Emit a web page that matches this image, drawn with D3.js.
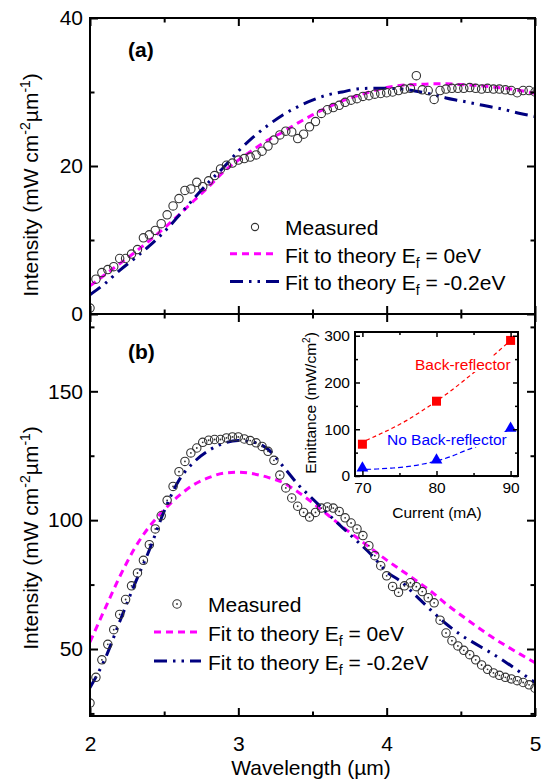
<!DOCTYPE html>
<html>
<head>
<meta charset="utf-8">
<script src="https://cdn.jsdelivr.net/npm/d3@7"></script>
<style>
  body { margin: 0; background: #fff; }
  svg { display: block; font-family: "Liberation Sans", Arial, sans-serif; }
</style>
</head>
<body>
<div id="chart"></div>
<script>
// measured spectra share one wavelength grid (µm)
const wavelength = [2.00,2.04,2.08,2.12,2.16,2.20,2.24,2.28,2.32,2.36,2.40,2.44,2.48,2.52,2.56,2.60,2.64,2.68,2.72,2.76,
  2.80,2.84,2.88,2.92,2.96,3.00,3.04,3.08,3.12,3.16,3.20,3.24,3.28,3.32,3.36,3.40,3.44,3.48,3.52,3.56,
  3.60,3.64,3.68,3.72,3.76,3.80,3.84,3.88,3.92,3.96,4.00,4.04,4.08,4.12,4.16,4.20,4.24,4.28,4.32,4.36,
  4.40,4.44,4.48,4.52,4.56,4.60,4.64,4.68,4.72,4.76,4.80,4.84,4.88,4.92,4.96,5.00];

const measuredA = [0.8,4.7,5.6,6.0,6.4,7.5,7.5,8.1,8.7,10.3,
  10.7,11.3,12.2,13.4,14.6,15.6,16.7,16.9,17.8,17.2,
  18.0,18.7,19.6,20.1,20.4,20.8,21.0,21.2,21.5,22.0,
  22.7,23.5,24.2,24.7,24.6,23.7,24.3,25.3,26.0,27.1,
  27.6,27.9,28.2,28.6,28.9,29.1,29.4,29.5,29.7,29.8,
  29.9,30.0,30.2,30.4,30.5,32.2,30.3,30.2,29.0,30.2,
  30.4,30.5,30.5,30.5,30.6,30.5,30.4,30.5,30.4,30.4,
  30.3,30.2,29.9,30.2,30.2,30.0];

const measuredB = [29.0,39.0,45.8,51.8,57.5,63.4,69.2,74.5,79.5,84.4,
  90.5,96.6,101.7,107.7,113.1,118.8,122.8,126.1,128.0,130.2,
  131.0,131.3,131.3,131.9,132.3,132.3,131.5,130.9,130.0,128.6,
  126.7,123.2,117.5,112.5,108.6,105.4,103.0,101.2,103.0,104.7,
  105.1,104.7,103.4,100.9,98.9,96.6,94.0,90.1,86.2,82.3,
  78.4,74.3,72.0,74.5,75.7,74.2,72.3,69.9,67.9,61.2,
  56.2,53.2,51.2,49.5,47.8,45.8,43.8,42.1,40.7,39.8,
  39.0,38.4,37.7,37.0,36.1,34.8];

// theory curves
const fitWave = [2.0,2.1,2.2,2.3,2.4,2.5,2.6,2.7,2.8,2.9,3.0,3.1,3.2,3.3,3.4,3.5,
  3.6,3.7,3.8,3.9,4.0,4.1,4.2,4.3,4.4,4.5,4.6,4.7,4.8,4.9,5.0];
const fitA0 = [3.8,5.3,6.8,8.3,9.9,11.6,13.4,15.3,17.2,19.2,20.8,22.2,23.5,24.6,25.8,26.9,
  27.9,28.8,29.5,30.1,30.6,30.9,31.0,31.1,31.1,31.0,30.9,30.7,30.5,30.2,29.8];
const fitA2 = [2.6,4.1,5.9,7.5,9.2,11.1,13.3,15.6,17.8,19.8,22.0,23.9,25.5,26.9,28.0,28.9,
  29.6,30.0,30.4,30.5,30.5,30.4,30.1,29.7,29.2,28.8,28.4,28.0,27.6,27.1,26.7];
const fitB0 = [52.7,65.5,78.0,89.0,97.5,104.0,109.5,113.8,116.5,118.2,118.6,118.0,116.6,114.6,111.0,106.8,
  102.2,97.5,93.2,88.8,84.5,80.5,76.5,72.3,67.5,63.2,59.0,55.0,51.4,48.0,44.7];
const fitB2 = [35.0,46.0,60.6,75.0,88.4,103.5,115.5,122.5,127.0,129.8,130.9,130.3,127.5,121.0,114.0,108.3,
  102.7,97.2,91.9,86.4,80.0,76.0,70.5,65.0,59.8,55.5,52.0,48.6,45.0,41.0,37.0];

const legendLabels = ["Measured", "0eV", "-0.2eV"];

// inset: emittance vs current
const current = [70, 80, 90];
const withReflector = [68, 160, 290];
const noReflector = [17, 34, 102];
const insetFitCurrent = [70.5, 72, 74, 76, 78, 80, 82, 84, 86, 88, 90];
const withReflectorFit = [76, 87, 102, 119, 139, 160, 183, 208, 234, 262, 290];
const noReflectorFit = [14, 15, 17, 20, 25, 32, 42, 55, 67, 83, 101];

const width = 542, height = 781;
const magenta = "#ff00ff", navy = "#000080";

const svg = d3.select("#chart").append("svg")
  .attr("width", width)
  .attr("height", height);

const x = d3.scaleLinear().domain([2, 5]).range([90, 535]);
const yA = d3.scaleLinear().domain([0, 40]).range([314, 18]);
const yB = d3.scaleLinear().domain([24, 180]).range([716, 314]);

const xI = d3.scaleLinear().domain([69, 91]).range([355, 518]);
const yI = d3.scaleLinear().domain([0, 308]).range([476, 332]);

function box(xs, ys, o) {
  const g = svg.append("g");
  const [xl, xr] = xs.range();
  const [yb, yt] = ys.range();
  const none = () => "";
  const side = (axis, tr, vals, size, fmt, pad) => {
    const a = g.append("g").attr("transform", tr)
      .call(axis.tickValues(vals).tickSize(-size).tickPadding(pad).tickFormat(fmt));
    a.select(".domain").remove();
    a.selectAll("line").attr("stroke", "#000").attr("stroke-width", o.tw);
    a.attr("font-family", null).attr("font-size", o.fs);
    a.selectAll("text").attr("fill", "#000");
  };
  side(d3.axisBottom(xs), `translate(0,${yb})`, o.xMajor, o.maj, o.xLab ? d3.format("d") : none, o.xPad);
  side(d3.axisBottom(xs), `translate(0,${yb})`, o.xMinor, o.min, none, 0);
  side(d3.axisTop(xs), `translate(0,${yt})`, o.xMajor, o.maj, none, 0);
  side(d3.axisTop(xs), `translate(0,${yt})`, o.xMinor, o.min, none, 0);
  side(d3.axisLeft(ys), `translate(${xl},0)`, o.yMajor, o.maj, d3.format("d"), o.yPad);
  side(d3.axisLeft(ys), `translate(${xl},0)`, o.yMinor, o.min, none, 0);
  side(d3.axisRight(ys), `translate(${xr},0)`, o.yMajor, o.maj, none, 0);
  side(d3.axisRight(ys), `translate(${xr},0)`, o.yMinor, o.min, none, 0);
  g.append("rect")
    .attr("x", xl).attr("y", yt)
    .attr("width", xr - xl).attr("height", yb - yt)
    .attr("fill", "none").attr("stroke", "#000").attr("stroke-width", o.fw);
}

function drawPanel(ys, measured, fit0, fit2, dotted, clipId) {
  svg.append("clipPath").attr("id", clipId)
    .append("rect")
    .attr("x", x.range()[0]).attr("y", ys.range()[1])
    .attr("width", x.range()[1] - x.range()[0])
    .attr("height", ys.range()[0] - ys.range()[1]);

  const g = svg.append("g").attr("clip-path", `url(#${clipId})`);
  const line = d3.line()
    .x(d => x(d[0]))
    .y(d => ys(d[1]))
    .curve(d3.curveMonotoneX);

  g.append("path")
    .datum(d3.zip(fitWave, fit0))
    .attr("d", line)
    .attr("fill", "none")
    .attr("stroke", magenta)
    .attr("stroke-width", 3)
    .attr("stroke-dasharray", "7,5");

  g.append("path")
    .datum(d3.zip(fitWave, fit2))
    .attr("d", line)
    .attr("fill", "none")
    .attr("stroke", navy)
    .attr("stroke-width", 3)
    .attr("stroke-dasharray", "13,6,2.5,6,2.5,6");

  const pts = g.selectAll(".pt")
    .data(d3.zip(wavelength, measured))
    .join("g")
    .attr("transform", d => `translate(${x(d[0])},${ys(d[1])})`);
  pts.append("circle")
    .attr("r", 4.2)
    .attr("fill", "none")
    .attr("stroke", "#333")
    .attr("stroke-width", 1.1);
  if (dotted) {
    pts.append("circle").attr("r", 0.9).attr("fill", "#333");
  }
}

function fitText(tx, ty, val) {
  const t = svg.append("text").attr("x", tx).attr("y", ty).attr("font-size", 21);
  t.append("tspan").text("Fit to theory E");
  t.append("tspan").attr("font-size", 14).attr("dy", 5).text("f");
  t.append("tspan").attr("dy", -5).text(" = " + val);
}

function legend(lx, ly, row, dotted, sampleX0, sampleX1, symX) {
  svg.append("circle").attr("cx", symX).attr("cy", ly - 8)
    .attr("r", dotted ? 4.2 : 3.6)
    .attr("fill", "none").attr("stroke", "#333").attr("stroke-width", 1.1);
  if (dotted) svg.append("circle").attr("cx", symX).attr("cy", ly - 8).attr("r", 0.9).attr("fill", "#333");
  svg.append("text").attr("x", lx).attr("y", ly).attr("font-size", 21).text(legendLabels[0]);

  svg.append("line")
    .attr("x1", sampleX0).attr("x2", sampleX1)
    .attr("y1", ly + row - 9).attr("y2", ly + row - 9)
    .attr("stroke", magenta).attr("stroke-width", 3).attr("stroke-dasharray", "7,5");
  fitText(lx, ly + row, legendLabels[1]);

  svg.append("line")
    .attr("x1", sampleX0).attr("x2", sampleX1 + 2)
    .attr("y1", ly + 2 * row - 9).attr("y2", ly + 2 * row - 9)
    .attr("stroke", navy).attr("stroke-width", 3).attr("stroke-dasharray", "13,6,2.5,6,2.5,6");
  fitText(lx, ly + 2 * row, legendLabels[2]);
}

function yTitle(cx, cy) {
  const t = svg.append("text")
    .attr("transform", `translate(${cx},${cy}) rotate(-90)`)
    .attr("text-anchor", "middle")
    .attr("font-size", 21);
  t.append("tspan").text("Intensity (mW cm");
  t.append("tspan").attr("font-size", 14).attr("dy", -8).text("-2");
  t.append("tspan").attr("dy", 8).text("\u00b5m");
  t.append("tspan").attr("font-size", 14).attr("dy", -8).text("-1");
  t.append("tspan").attr("dy", 8).text(")");
}

// panel (a)
drawPanel(yA, measuredA, fitA0, fitA2, false, "clipA");
box(x, yA, {
  xMajor: [2, 3, 4, 5], xMinor: [2.5, 3.5, 4.5], xLab: false, xPad: 0,
  yMajor: [0, 20, 40], yMinor: [10, 30], yPad: 7,
  maj: 8, min: 4.5, tw: 2, fw: 2, fs: 21
});

// panel (b)
drawPanel(yB, measuredB, fitB0, fitB2, true, "clipB");
box(x, yB, {
  xMajor: [2, 3, 4, 5], xMinor: [2.5, 3.5, 4.5], xLab: true, xPad: 20,
  yMajor: [50, 100, 150], yMinor: [25, 75, 125, 175], yPad: 7,
  maj: 8, min: 4.5, tw: 2, fw: 2, fs: 21
});

svg.append("text").attr("x", 128).attr("y", 57)
  .attr("font-size", 21).attr("font-weight", "bold").text("(a)");
svg.append("text").attr("x", 128).attr("y", 359)
  .attr("font-size", 21).attr("font-weight", "bold").text("(b)");

legend(285, 235, 27.7, false, 230, 277, 255);
legend(208, 612, 29, true, 154, 199, 177);

yTitle(38, 185);
yTitle(38, 538);

svg.append("text")
  .attr("x", 311).attr("y", 775)
  .attr("text-anchor", "middle")
  .attr("font-size", 21)
  .text("Wavelength (\u00b5m)");

// inset
const inset = svg.append("g");
inset.append("rect")
  .attr("x", xI.range()[0]).attr("y", yI.range()[1])
  .attr("width", xI.range()[1] - xI.range()[0])
  .attr("height", yI.range()[0] - yI.range()[1])
  .attr("fill", "#fff");

const insetLine = d3.line().x(d => xI(d[0])).y(d => yI(d[1])).curve(d3.curveMonotoneX);
inset.append("path")
  .datum(d3.zip(insetFitCurrent, withReflectorFit))
  .attr("d", insetLine)
  .attr("fill", "none").attr("stroke", "#ff0000")
  .attr("stroke-width", 1.2).attr("stroke-dasharray", "4,3");
inset.append("path")
  .datum(d3.zip(insetFitCurrent, noReflectorFit))
  .attr("d", insetLine)
  .attr("fill", "none").attr("stroke", "#0000ff")
  .attr("stroke-width", 1.2).attr("stroke-dasharray", "5,3");

function insetLabel(tx, ty, str, color) {
  const t = inset.append("text").attr("x", tx).attr("y", ty)
    .attr("font-size", 15.5).attr("fill", color).text(str);
  const b = t.node().getBBox();
  inset.insert("rect", () => t.node())
    .attr("x", b.x - 1).attr("y", b.y + 1)
    .attr("width", b.width + 2).attr("height", b.height - 2)
    .attr("fill", "#fff");
}
insetLabel(415, 370, "Back-reflector", "#ff0000");
insetLabel(387, 445, "No Back-reflector", "#0000ff");

inset.selectAll(".sq")
  .data(d3.zip(current, withReflector))
  .join("rect")
  .attr("x", d => xI(d[0]) - 4.5)
  .attr("y", d => yI(d[1]) - 4.5)
  .attr("width", 9).attr("height", 9)
  .attr("fill", "#ff0000");

inset.selectAll(".tri")
  .data(d3.zip(current, noReflector))
  .join("path")
  .attr("transform", d => `translate(${xI(d[0])},${yI(d[1])})`)
  .attr("d", d3.symbol(d3.symbolTriangle, 60))
  .attr("fill", "#0000ff");

box(xI, yI, {
  xMajor: [70, 80, 90], xMinor: [75, 85], xLab: true, xPad: 6,
  yMajor: [0, 100, 200, 300], yMinor: [50, 150, 250], yPad: 5,
  maj: 5, min: 3, tw: 1.5, fw: 2, fs: 15.5
});

const et = svg.append("text")
  .attr("transform", "translate(316,403) rotate(-90)")
  .attr("text-anchor", "middle")
  .attr("font-size", 15.5);
et.append("tspan").text("Emittance (mW/cm");
et.append("tspan").attr("font-size", 10).attr("dy", -6).text("2");
et.append("tspan").attr("dy", 6).text(")");

svg.append("text")
  .attr("x", 437).attr("y", 518)
  .attr("text-anchor", "middle")
  .attr("font-size", 15.5)
  .text("Current (mA)");
</script>
</body>
</html>
